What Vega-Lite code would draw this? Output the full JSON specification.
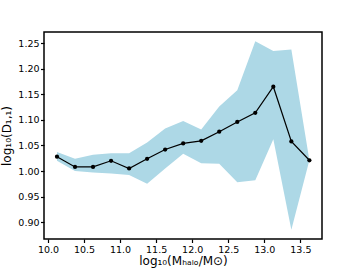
{
  "$schema": "https://vega.github.io/schema/vega-lite/v6.json",
  "width": 278,
  "height": 207,
  "autosize": "none",
  "padding": {"left": 44, "top": 32, "right": 35, "bottom": 29},
  "background": "white",
  "config": {
    "view": {"stroke": "black", "strokeWidth": 1.5},
    "font": "DejaVu Sans",
    "axis": {
      "domain": false,
      "grid": false,
      "ticks": true,
      "tickColor": "black",
      "tickSize": 3.5,
      "tickWidth": 1.2,
      "labelColor": "black",
      "labelFont": "DejaVu Sans",
      "labelFontSize": 9.5,
      "labelPadding": 1.5,
      "titleColor": "black",
      "titleFont": "DejaVu Sans",
      "titleFontSize": 12,
      "titleFontWeight": "normal"
    }
  },
  "data": {
    "values": [
      {"m": 10.125, "d": 1.028, "lo": 1.020, "hi": 1.037},
      {"m": 10.375, "d": 1.008, "lo": 1.000, "hi": 1.024},
      {"m": 10.625, "d": 1.008, "lo": 0.997, "hi": 1.032},
      {"m": 10.875, "d": 1.020, "lo": 0.995, "hi": 1.035},
      {"m": 11.125, "d": 1.005, "lo": 0.992, "hi": 1.035},
      {"m": 11.375, "d": 1.024, "lo": 0.975, "hi": 1.056},
      {"m": 11.625, "d": 1.042, "lo": 1.005, "hi": 1.083},
      {"m": 11.875, "d": 1.054, "lo": 1.034, "hi": 1.098},
      {"m": 12.125, "d": 1.059, "lo": 1.015, "hi": 1.081},
      {"m": 12.375, "d": 1.077, "lo": 1.014, "hi": 1.126},
      {"m": 12.625, "d": 1.096, "lo": 0.978, "hi": 1.158},
      {"m": 12.875, "d": 1.114, "lo": 0.982, "hi": 1.254},
      {"m": 13.125, "d": 1.165, "lo": 1.062, "hi": 1.235},
      {"m": 13.375, "d": 1.058, "lo": 0.885, "hi": 1.238},
      {"m": 13.625, "d": 1.021, "lo": 1.021, "hi": 1.021}
    ]
  },
  "encoding": {
    "x": {
      "field": "m",
      "type": "quantitative",
      "scale": {"domain": [9.945, 13.8], "nice": false, "zero": false},
      "axis": {
        "values": [10, 10.5, 11, 11.5, 12, 12.5, 13, 13.5],
        "format": ".1f",
        "labelOverlap": false,
        "title": "log₁₀(Mₕₐₗₒ/M⊙)",
        "titlePadding": 1.5
      }
    }
  },
  "layer": [
    {
      "mark": {"type": "area", "color": "#add8e6", "opacity": 1},
      "encoding": {
        "y": {
          "field": "lo",
          "type": "quantitative",
          "scale": {"domain": [0.867, 1.272], "nice": false, "zero": false},
          "axis": {
            "values": [0.9, 0.95, 1.0, 1.05, 1.1, 1.15, 1.2, 1.25],
            "format": ".2f",
            "labelOverlap": false,
            "labelFlush": false,
            "title": "log₁₀(D₁,₁)",
            "titlePadding": 4
          }
        },
        "y2": {"field": "hi"}
      }
    },
    {
      "mark": {"type": "line", "color": "black", "strokeWidth": 1.2, "point": {"color": "black", "size": 18, "filled": true}},
      "encoding": {
        "y": {"field": "d", "type": "quantitative", "axis": {
            "values": [0.9, 0.95, 1.0, 1.05, 1.1, 1.15, 1.2, 1.25],
            "format": ".2f",
            "labelOverlap": false,
            "labelFlush": false,
            "title": "log₁₀(D₁,₁)",
            "titlePadding": 4
          }}
      }
    }
  ]
}
